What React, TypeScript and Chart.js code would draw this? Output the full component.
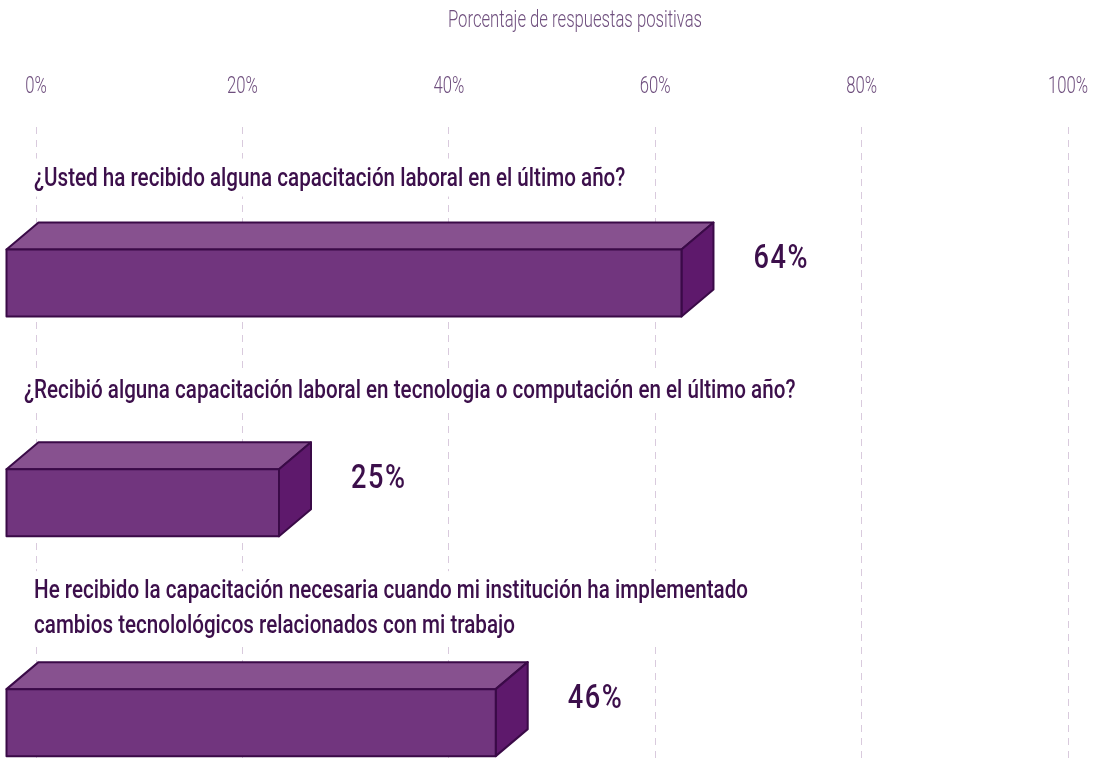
import React, { useEffect, useRef } from "react";
import { Chart, registerables } from "chart.js";

Chart.register(...registerables);

// ---- data ----
const questionLines: string[][] = [
  ["¿Usted ha recibido alguna capacitación laboral en el último año?"],
  ["¿Recibió alguna capacitación laboral en tecnologia o computación en el último año?"],
  [
    "He recibido la capacitación necesaria cuando mi institución ha implementado",
    "cambios tecnolológicos relacionados con mi trabajo",
  ],
];
const positiveShare: number[] = [64, 25, 46];
const questionIndex: number[] = [0, 1, 2];
const tickPercents: number[] = [0, 20, 40, 60, 80, 100];
const axisTitle = "Porcentaje de respuestas positivas";

// ---- style ----
const FONT = "Roboto, 'Noto Sans', sans-serif";
const TEXT_DARK = "#3c0f4b";
const TEXT_LIGHT = "#6f4f7e";
const GRID = "#d9cadd";
const FRONT = "#71357e";
const TOP = "#87518f";
const SIDE = "#5e196c";
const EDGE = "#3a0a47";
const DX = 32;
const DY = 27;
const SHIFT = 30;
const SHORTEN = 15;
const BAR_H = 67;
const LABEL_INDENT = [34, 24, 34];
const LABEL_GAP = [37, 44, 29];
const LINE_H = 35;
const SX_LABEL = 0.825;
const SX_LIGHT = 0.725;
const TITLE_X = 575;
const TITLE_BASE = 27;

function drawText(ctx: any, text: string, x: number, y: number, font: string, sx: number, align: string, color: string, spacing = "0px") {
  ctx.save();
  ctx.font = font;
  ctx.fillStyle = color;
  ctx.textAlign = align;
  ctx.textBaseline = "alphabetic";
  try {
    ctx.letterSpacing = spacing;
  } catch (e) {}
  ctx.translate(x, y);
  ctx.scale(sx, 1);
  ctx.fillText(text, 0, 0);
  ctx.restore();
}

const box3dPlugin = {
  id: "box3d",
  beforeDatasetsDraw(chart: any) {
    const { ctx } = chart;
    const meta = chart.getDatasetMeta(0);
    const labelFont = `500 25px ${FONT}`;
    meta.data.forEach((bar: any, i: number) => {
      const { y } = bar.getProps(["y"], true);
      const lines = questionLines[i];
      const lastBase = y - BAR_H / 2 - DY - LABEL_GAP[i];
      const firstBase = lastBase - (lines.length - 1) * LINE_H;
      const left = LABEL_INDENT[i];
      ctx.save();
      ctx.font = labelFont;
      let w = 0;
      lines.forEach((l) => (w = Math.max(w, ctx.measureText(l).width * SX_LABEL)));
      ctx.restore();
      ctx.fillStyle = "#ffffff";
      ctx.fillRect(left - 8, firstBase - 27, w + 20, (lines.length - 1) * LINE_H + 38);
      lines.forEach((l, k) => drawText(ctx, l, left, firstBase + k * LINE_H, labelFont, SX_LABEL, "left", TEXT_DARK));
    });
  },
  afterDatasetsDraw(chart: any) {
    const { ctx } = chart;
    const meta = chart.getDatasetMeta(0);
    ctx.save();
    ctx.lineWidth = 2;
    ctx.lineJoin = "round";
    ctx.strokeStyle = EDGE;
    meta.data.forEach((bar: any, i: number) => {
      const { x, y, base } = bar.getProps(["x", "y", "base"], true);
      const l = base - SHIFT;
      const r = x - SHORTEN;
      const t = y - BAR_H / 2;
      const b = y + BAR_H / 2;
      // top face
      ctx.beginPath();
      ctx.moveTo(l, t);
      ctx.lineTo(l + DX, t - DY);
      ctx.lineTo(r + DX, t - DY);
      ctx.lineTo(r, t);
      ctx.closePath();
      ctx.fillStyle = TOP;
      ctx.fill();
      ctx.stroke();
      // side face
      ctx.beginPath();
      ctx.moveTo(r, t);
      ctx.lineTo(r + DX, t - DY);
      ctx.lineTo(r + DX, b - DY);
      ctx.lineTo(r, b);
      ctx.closePath();
      ctx.fillStyle = SIDE;
      ctx.fill();
      ctx.stroke();
      // front face
      ctx.beginPath();
      ctx.rect(l, t, r - l, b - t);
      ctx.fillStyle = FRONT;
      ctx.fill();
      ctx.stroke();
      // value label
      drawText(
        ctx,
        `${positiveShare[i]}%`,
        r + DX + 40,
        (t - DY + b - DY) / 2 + 12,
        `500 34px ${FONT}`,
        0.8,
        "left",
        TEXT_DARK,
        "2px"
      );
    });
    ctx.restore();
  },
  afterDraw(chart: any) {
    const { ctx, chartArea } = chart;
    const xs = chart.scales.x;
    const lightFont = `300 23px ${FONT}`;
    xs.ticks.forEach((t: any) => {
      drawText(ctx, `${t.value}%`, xs.getPixelForValue(t.value), chartArea.top - 34, lightFont, SX_LIGHT, "center", TEXT_LIGHT);
    });
    drawText(ctx, axisTitle, TITLE_X, TITLE_BASE, lightFont, SX_LIGHT, "center", TEXT_LIGHT);
  },
};

export default function App() {
  const ref = useRef<HTMLCanvasElement | null>(null);
  useEffect(() => {
    if (!ref.current) return;
    const chart = new Chart(ref.current, {
      type: "bar",
      data: {
        datasets: [
          {
            data: positiveShare.map((v, i) => ({ x: v, y: questionIndex[i] })),
            backgroundColor: "rgba(0,0,0,0)",
            borderWidth: 0,
            barThickness: BAR_H,
          },
        ],
      },
      options: {
        indexAxis: "y",
        animation: false,
        responsive: true,
        maintainAspectRatio: false,
        layout: { padding: { left: 36, right: 33, top: 39.4, bottom: 0 } },
        plugins: {
          legend: { display: false },
          tooltip: { enabled: false },
          title: { display: false },
        },
        scales: {
          x: {
            type: "linear",
            position: "top",
            min: 0,
            max: 100,
            afterBuildTicks: (s: any) => {
              s.ticks = tickPercents.map((v) => ({ value: v }));
            },
            afterFit: (s: any) => {
              s.paddingLeft = 0;
              s.paddingRight = 0;
            },
            ticks: {
              color: "rgba(0,0,0,0)",
              font: { family: FONT, size: 23, weight: "300" },
              padding: 30,
              callback: (v: any) => `${v}%`,
              maxRotation: 0,
            },
            grid: { color: GRID, drawTicks: false, lineWidth: 1 },
            border: { display: false, dash: [7, 6] },
          },
          y: {
            type: "linear",
            reverse: true,
            min: -0.71,
            max: 2.17,
            offset: false,
            display: false,
          },
        },
      },
      plugins: [box3dPlugin],
    } as any);
    return () => chart.destroy();
  }, []);
  return (
    <div style={{ position: "absolute", left: 0, top: 0, width: 1101, height: 760, background: "#fff" }}>
      <canvas ref={ref} />
    </div>
  );
}
